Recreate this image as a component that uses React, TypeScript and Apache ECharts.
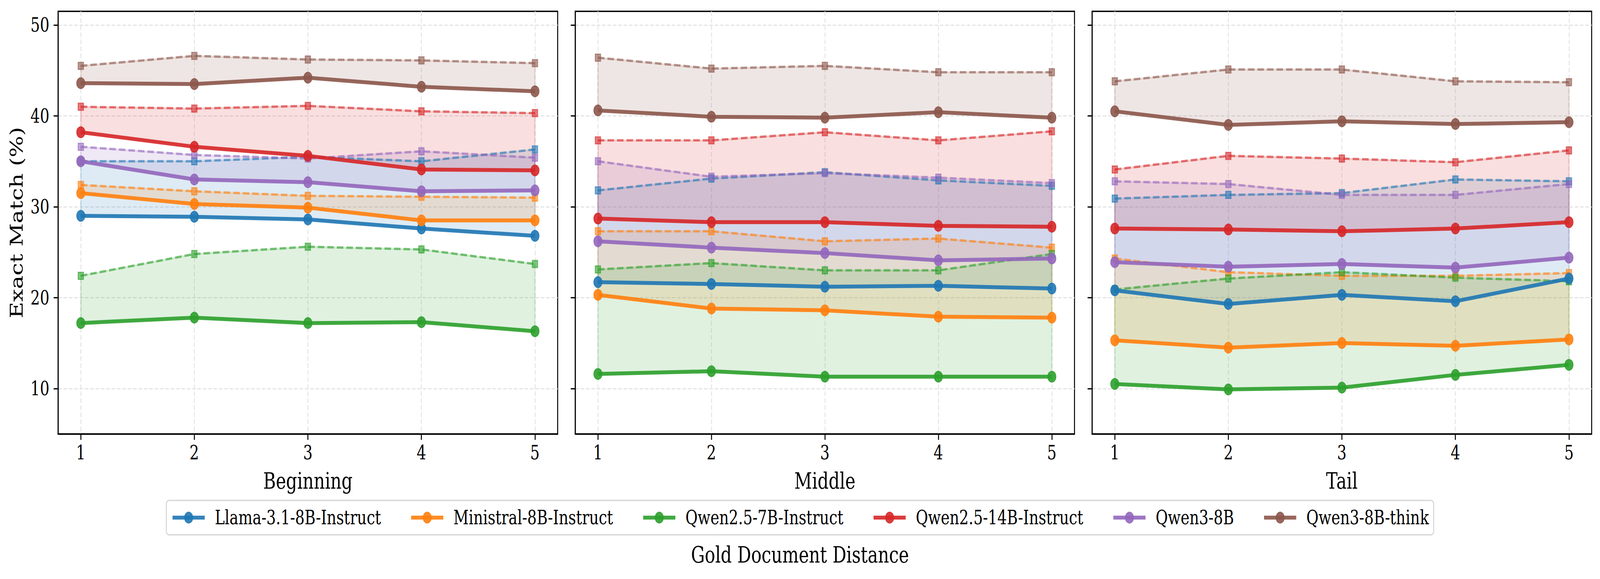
import React, { useEffect, useRef } from 'react';
import * as echarts from 'echarts';

const distances = [1, 2, 3, 4, 5];
const positions = ['Beginning', 'Middle', 'Tail'];
const models = [
  'Llama-3.1-8B-Instruct',
  'Ministral-8B-Instruct',
  'Qwen2.5-7B-Instruct',
  'Qwen2.5-14B-Instruct',
  'Qwen3-8B',
  'Qwen3-8B-think',
];
const colors = ['#1f77b4', '#ff7f0e', '#2ca02c', '#d62728', '#9467bd', '#8c564b'];
const yTicks = [10, 20, 30, 40, 50];

// solid lines (circle markers), one row per model
const beginningSolid = [
  [29.0, 28.9, 28.6, 27.6, 26.8],
  [31.5, 30.3, 29.9, 28.5, 28.5],
  [17.2, 17.8, 17.2, 17.3, 16.3],
  [38.2, 36.6, 35.6, 34.1, 34.0],
  [35.0, 33.0, 32.7, 31.7, 31.8],
  [43.6, 43.5, 44.2, 43.2, 42.7],
];
// dashed lines (square markers), one row per model
const beginningDashed = [
  [35.0, 35.0, 35.5, 35.0, 36.3],
  [32.4, 31.7, 31.2, 31.1, 31.0],
  [22.4, 24.8, 25.6, 25.3, 23.7],
  [41.0, 40.8, 41.1, 40.5, 40.3],
  [36.6, 35.7, 35.3, 36.1, 35.4],
  [45.5, 46.6, 46.2, 46.1, 45.8],
];
const middleSolid = [
  [21.7, 21.5, 21.2, 21.3, 21.0],
  [20.3, 18.8, 18.6, 17.9, 17.8],
  [11.6, 11.9, 11.3, 11.3, 11.3],
  [28.7, 28.3, 28.3, 27.9, 27.8],
  [26.2, 25.5, 24.9, 24.1, 24.3],
  [40.6, 39.9, 39.8, 40.4, 39.8],
];
const middleDashed = [
  [31.8, 33.1, 33.8, 32.9, 32.3],
  [27.3, 27.3, 26.2, 26.5, 25.5],
  [23.1, 23.8, 23.0, 23.0, 24.8],
  [37.3, 37.3, 38.2, 37.3, 38.3],
  [35.0, 33.3, 33.7, 33.2, 32.6],
  [46.4, 45.2, 45.5, 44.8, 44.8],
];
const tailSolid = [
  [20.8, 19.3, 20.3, 19.6, 22.1],
  [15.3, 14.5, 15.0, 14.7, 15.4],
  [10.5, 9.9, 10.1, 11.5, 12.6],
  [27.6, 27.5, 27.3, 27.6, 28.3],
  [23.9, 23.4, 23.7, 23.3, 24.4],
  [40.5, 39.0, 39.4, 39.1, 39.3],
];
const tailDashed = [
  [30.9, 31.3, 31.5, 33.0, 32.8],
  [24.3, 22.8, 22.4, 22.4, 22.7],
  [20.9, 22.1, 22.8, 22.2, 21.8],
  [34.1, 35.6, 35.3, 34.9, 36.2],
  [32.8, 32.5, 31.3, 31.3, 32.5],
  [43.8, 45.1, 45.1, 43.8, 43.7],
];

const solidByPanel = [beginningSolid, middleSolid, tailSolid];
const dashedByPanel = [beginningDashed, middleDashed, tailDashed];

const FONT = 'DejaVu Serif';
const W = 5371;
const H = 1481;
const gridLefts = [195, 1931, 3666];
const gridWidths = [1677, 1676, 1677];
const gridTop = 29;
const gridHeight = 1081;

function rgba(hex: string, a: number) {
  const n = parseInt(hex.slice(1), 16);
  return `rgba(${(n >> 16) & 255},${(n >> 8) & 255},${n & 255},${a})`;
}

export default function App() {
  const ref = useRef<HTMLDivElement>(null);
  const hasWin = typeof window !== 'undefined';
  const sx = hasWin && window.innerWidth ? window.innerWidth / W : 1;
  const sy = hasWin && window.innerHeight ? window.innerHeight / H : 1;

  useEffect(() => {
    document.body.style.margin = '0';
    document.body.style.overflow = 'hidden';
    document.documentElement.style.overflow = 'hidden';
    const chart = echarts.init(ref.current as HTMLDivElement, null, { renderer: 'svg', width: W, height: H });

    const grids = positions.map((_, p) => ({
      left: gridLefts[p],
      top: gridTop,
      width: gridWidths[p],
      height: gridHeight,
      show: true,
      borderColor: '#000',
      borderWidth: 3.3,
      backgroundColor: 'transparent',
    }));

    const splitLine = { show: true, lineStyle: { color: '#e4e4e4', width: 3, type: [12, 6] } };

    const xAxes = positions.map((name, p) => ({
      type: 'value',
      gridIndex: p,
      min: 0.8,
      max: 5.2,
      name,
      nameLocation: 'middle',
      nameGap: 91,
      nameTextStyle: { fontFamily: FONT, fontSize: 58, color: '#000' },
      axisLine: { show: true, lineStyle: { color: '#000', width: 3.3 } },
      axisTick: { show: true, inside: false, length: 15, customValues: distances, lineStyle: { color: '#000', width: 3.3 } },
      axisLabel: { show: true, customValues: distances, margin: 23, fontFamily: FONT, fontSize: 50, color: '#000' },
      splitLine,
    }));

    const yAxes = positions.map((_, p) => ({
      type: 'value',
      gridIndex: p,
      min: 5,
      max: 51.5,
      name: p === 0 ? 'Exact Match (%)' : '',
      nameLocation: 'middle',
      nameGap: 110,
      nameRotate: 90,
      nameTextStyle: { fontFamily: FONT, fontSize: 58, color: '#000' },
      axisLine: { show: true, lineStyle: { color: '#000', width: 3.3 } },
      axisTick: { show: true, inside: false, length: 15, customValues: yTicks, lineStyle: { color: '#000', width: 3.3 } },
      axisLabel: { show: p === 0, customValues: yTicks, margin: 29, fontFamily: FONT, fontSize: 50, color: '#000' },
      splitLine,
    }));

    const series: any[] = [];
    positions.forEach((pos, p) => {
      models.forEach((m, k) => {
        const solid = solidByPanel[p][k];
        const dashed = dashedByPanel[p][k];
        const color = colors[k];
        // shaded band between the solid and the dashed line
        series.push({
          type: 'custom',
          name: `${m} band ${pos}`,
          xAxisIndex: p,
          yAxisIndex: p,
          silent: true,
          z: 1,
          data: distances.map((x, i) => [x, solid[i], dashed[i]]),
          encode: { x: 0, y: [1, 2] },
          renderItem: (params: any, api: any) => {
            if (params.dataIndex !== 0) return null;
            const n = distances.length;
            const top: number[][] = [];
            const bottom: number[][] = [];
            for (let i = 0; i < n; i++) {
              top.push(api.coord([api.value(0, i), api.value(2, i)]));
              bottom.push(api.coord([api.value(0, i), api.value(1, i)]));
            }
            const points = top.concat(bottom.reverse());
            return {
              type: 'polygon',
              shape: { points },
              style: { fill: rgba(color, 0.15), stroke: rgba(color, 0.15), lineWidth: 5 },
            };
          },
        });
        series.push({
          type: 'line',
          name: `${m} upper ${pos}`,
          xAxisIndex: p,
          yAxisIndex: p,
          data: distances.map((x, i) => [x, dashed[i]]),
          symbol: 'rect',
          symbolSize: 18,
          lineStyle: { color, width: 6, type: [22, 10], opacity: 0.6 },
          itemStyle: { color, opacity: 0.6, borderColor: color, borderWidth: 3 },
          emphasis: { disabled: true },
          z: 2,
        });
        series.push({
          type: 'line',
          name: m,
          xAxisIndex: p,
          yAxisIndex: p,
          data: distances.map((x, i) => [x, solid[i]]),
          symbol: 'circle',
          symbolSize: 28,
          lineStyle: { color, width: 10, opacity: 0.9 },
          itemStyle: { color, opacity: 0.9, borderColor: color, borderWidth: 2 },
          emphasis: { disabled: true },
          z: 3,
        });
      });
    });

    chart.setOption({
      animation: false,
      backgroundColor: '#fff',
      title: {
        text: 'Gold Document Distance',
        left: 'center',
        top: 1390,
        padding: 0,
        textStyle: { fontFamily: FONT, fontSize: 58, fontWeight: 'normal', color: '#000' },
      },
      legend: {
        data: models,
        left: 'center',
        top: 1280,
        orient: 'horizontal',
        itemWidth: 108,
        itemHeight: 35,
        itemGap: 96,
        padding: [19, 16, 19, 16],
        borderColor: '#d4d4d4',
        borderWidth: 3,
        borderRadius: 9,
        backgroundColor: '#fff',
        selectedMode: false,
        lineStyle: { width: 10 },
        textStyle: { fontFamily: FONT, fontSize: 50, color: '#000', padding: [0, 0, 0, 29] },
      },
      grid: grids,
      xAxis: xAxes,
      yAxis: yAxes,
      series,
    });

    return () => chart.dispose();
  }, []);

  return (
    <div style={{ width: '100vw', height: '100vh', overflow: 'hidden' }}>
      <div
        ref={ref}
        style={{ width: W, height: H, transform: `scale(${sx}, ${sy})`, transformOrigin: '0 0' }}
      />
    </div>
  );
}
